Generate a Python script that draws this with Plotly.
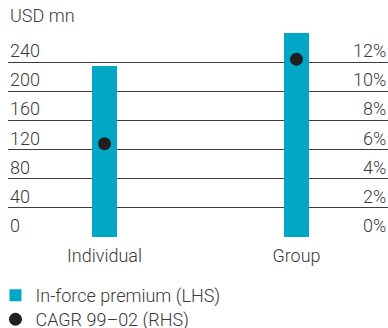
import plotly.graph_objects as go

categories = ["Individual", "Group"]
premium = [235, 280]          # USD mn, LHS
cagr = [6.4, 12.2]            # %, RHS
left_ticks = [0, 40, 80, 120, 160, 200, 240]
right_ticks = [0, 2, 4, 6, 8, 10, 12]
right_tick_labels = ["0%", "2%", "4%", "6%", "8%", "10%", "12%"]

BAR = "#00a8c6"
DOT = "#231f20"
TXT = "#3a3a3a"
GRID = "#3c3c3c"
FONT = "Roboto"
FS = 18

fig = go.Figure()
fig.add_trace(go.Bar(x=categories, y=premium, name="In-force premium (LHS)",
                     marker=dict(color=BAR, line=dict(width=0)), width=0.13,
                     legend="legend"))
fig.add_trace(go.Scatter(x=categories, y=cagr, name="CAGR 99–02 (RHS)", mode="markers",
                         marker=dict(color=DOT, size=13), yaxis="y2", legend="legend2"))

annotations = []
for v in left_ticks:
    annotations.append(dict(x=0, xref="paper", y=v, yref="y", text=str(v), showarrow=False,
                            xanchor="left", yanchor="bottom", yshift=-1,
                            font=dict(family=FONT, size=FS, color=TXT, weight=300)))
for v, t in zip(right_ticks, right_tick_labels):
    annotations.append(dict(x=1, xref="paper", y=v, yref="y2", text=t, showarrow=False,
                            xanchor="right", yanchor="bottom", yshift=-1,
                            font=dict(family=FONT, size=FS, color=TXT, weight=300)))
annotations.append(dict(x=0, xref="paper", y=1, yref="paper", text="USD mn", showarrow=False,
                        xanchor="left", yanchor="bottom", yshift=5,
                        font=dict(family=FONT, size=FS, color=TXT, weight=300)))

legend_style = dict(xanchor="left", yanchor="top", orientation="v",
                    font=dict(family=FONT, size=FS, color=TXT, weight=300),
                    itemwidth=30, bgcolor="rgba(0,0,0,0)")

fig.update_layout(
    width=388, height=328,
    margin=dict(l=8, r=0, t=33, b=91, autoexpand=False),
    paper_bgcolor="white", plot_bgcolor="white",
    font=dict(family=FONT, size=FS, color=TXT, weight=300),
    showlegend=True,
    legend=dict(x=-0.033, y=-0.196, **legend_style),
    legend2=dict(x=-0.033, y=-0.314, **legend_style),
    xaxis=dict(range=[-0.5026, 1.4766], showgrid=False, zeroline=False, showline=False,
               ticks="outside", ticklen=2, tickcolor="rgba(0,0,0,0)",
               tickfont=dict(family=FONT, size=FS, color=TXT, weight=300)),
    yaxis=dict(range=[0, 280], tickvals=left_ticks + [280], showticklabels=False,
               showgrid=True, gridcolor=GRID, gridwidth=1, zeroline=False, showline=False),
    yaxis2=dict(range=[0, 14], overlaying="y", side="right", showticklabels=False,
                showgrid=False, zeroline=False, showline=False),
    annotations=annotations,
    bargap=0,
)

fig.write_html("out.html")
